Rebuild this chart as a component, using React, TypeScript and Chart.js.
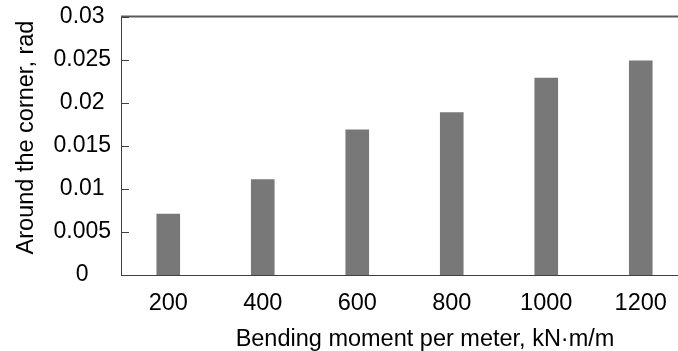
import React, { useEffect, useRef } from "react";
import { Chart, registerables } from "chart.js";

Chart.register(...registerables);

const categories = ["200", "400", "600", "800", "1000", "1200"];
const rotationValues = [0.0071, 0.0111, 0.0169, 0.0189, 0.0229, 0.0249];
const yTickLabels = ["0", "0.005", "0.01", "0.015", "0.02", "0.025", "0.03"];
const xTitle = "Bending moment per meter, kN·m/m";
const yTitle = "Around the corner, rad";

const FONT = "'Liberation Sans', Arial, Helvetica, sans-serif";

const framePlugin = {
  id: "frame",
  afterDraw(chart: any) {
    const { ctx, chartArea } = chart;
    const y = chart.scales.y;
    ctx.save();
    ctx.strokeStyle = "#5a5a5a";
    ctx.lineWidth = 2;
    ctx.beginPath();
    ctx.moveTo(chartArea.left, chartArea.top);
    ctx.lineTo(chartArea.right, chartArea.top);
    ctx.stroke();
    ctx.strokeStyle = "#404040";
    ctx.lineWidth = 1;
    y.ticks.forEach((t: any) => {
      const py = Math.round(y.getPixelForValue(t.value)) + 0.5;
      ctx.beginPath();
      ctx.moveTo(chartArea.left, py);
      ctx.lineTo(chartArea.left + 8, py);
      ctx.stroke();
    });
    // axis titles
    ctx.fillStyle = "#000";
    ctx.font = `23.5px ${FONT}`;
    ctx.textAlign = "center";
    ctx.textBaseline = "alphabetic";
    ctx.fillText(xTitle, chartArea.left + 304, chartArea.bottom + 70.5);
    ctx.translate(chartArea.left - 88, chartArea.top + 121);
    ctx.rotate(-Math.PI / 2);
    ctx.fillText(yTitle, 0, 0);
    ctx.restore();
  },
};

export default function App() {
  const ref = useRef<HTMLCanvasElement | null>(null);
  useEffect(() => {
    document.body.style.margin = "0";
    document.body.style.overflow = "hidden";
    const chart = new Chart(ref.current as HTMLCanvasElement, {
      type: "bar",
      data: {
        labels: categories,
        datasets: [
          {
            data: rotationValues,
            backgroundColor: "#787878",
            borderWidth: 0,
            barPercentage: 0.25,
            categoryPercentage: 1,
          },
        ],
      },
      options: {
        animation: false,
        responsive: true,
        maintainAspectRatio: false,
        layout: { padding: { top: 16.5, right: 0, bottom: 0, left: 0 } },
        plugins: { legend: { display: false }, tooltip: { enabled: false } },
        scales: {
          x: {
            grid: { display: false, drawTicks: false },
            border: { display: true, color: "#404040", width: 1 },
            ticks: { color: "#000", font: { family: FONT, size: 23.5 }, padding: 14 },
            title: { display: false },
            afterFit: (s: any) => {
              s.height = 76;
              s.paddingLeft = 0;
              s.paddingRight = 0;
            },
          },
          y: {
            min: 0,
            max: 0.03,
            grid: { display: false, drawTicks: false },
            border: { display: true, color: "#404040", width: 1 },
            ticks: {
              stepSize: 0.005,
              color: "#000",
              font: { family: FONT, size: 23 },
              padding: 10,
              crossAlign: "center",
              callback: (_v: any, i: number) => yTickLabels[i],
            },
            title: { display: false },
            afterFit: (s: any) => {
              s.width = 121;
              s.paddingTop = 0;
              s.paddingBottom = 0;
            },
          },
        },
      },
      plugins: [framePlugin],
    });
    return () => chart.destroy();
  }, []);
  return (
    <div style={{ position: "absolute", left: 0, top: 0, width: 688, height: 351 }}>
      <canvas ref={ref} />
    </div>
  );
}
